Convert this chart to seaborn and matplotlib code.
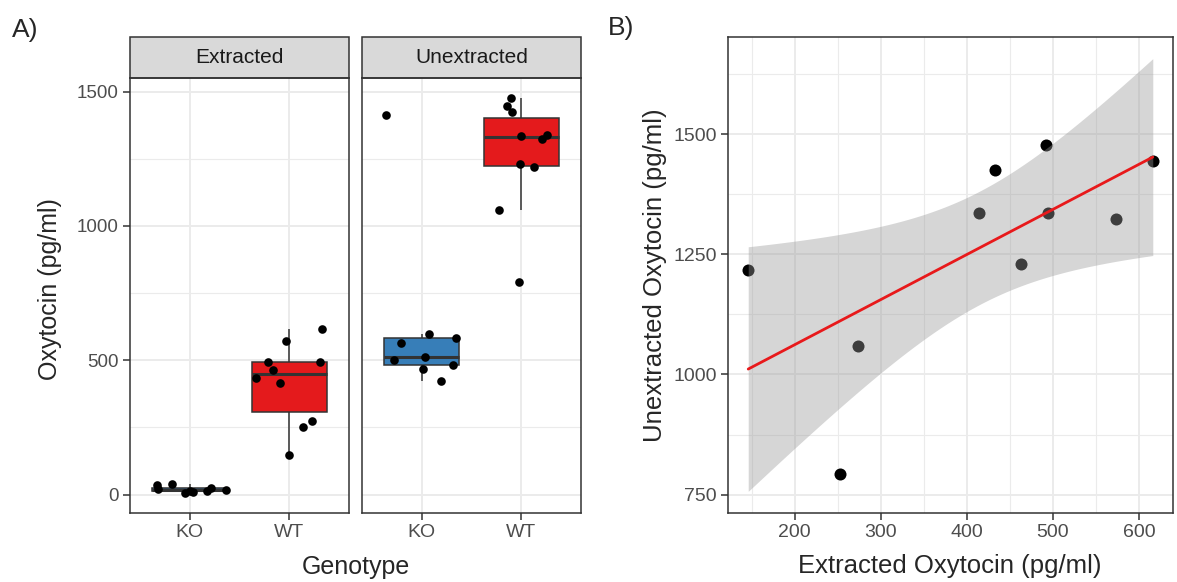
import matplotlib
matplotlib.use("Agg")
import matplotlib.pyplot as plt
import numpy as np
import pandas as pd
import seaborn as sns
from matplotlib.patches import Rectangle
from matplotlib.ticker import MultipleLocator

# Oxytocin (pg/ml)
ko_extracted = [22, 25, 5, 14, 16, 8, 12, 35, 40]
ko_unextracted = [1413, 597, 581, 566, 512, 481, 501, 466, 423]
wt_extracted = [146, 253, 273, 414, 433, 463, 492, 494, 573, 616]
wt_unextracted = [1218, 793, 1060, 1336, 1425, 1231, 1477, 1337, 1323, 1445]

genotypes = ["KO", "WT"]
conditions = ["Extracted", "Unextracted"]
box_colors = {"KO": "#377EB8", "WT": "#E41A1C"}

# long table for the faceted boxplots
rows = []
for cond, ko, wt in [("Extracted", ko_extracted, wt_extracted),
                     ("Unextracted", ko_unextracted, wt_unextracted)]:
    rows += [(cond, "KO", v) for v in ko]
    rows += [(cond, "WT", v) for v in wt]
df = pd.DataFrame(rows, columns=["Condition", "Genotype", "Oxytocin"])

sns.set_theme(style="white")
plt.rcParams["font.family"] = ["Liberation Sans", "DejaVu Sans"]

W, H = 1177, 582
fig = plt.figure(figsize=(W / 100, H / 100), dpi=100)


def px_axes(x0, y0, x1, y1):
    return fig.add_axes([x0 / W, 1 - y1 / H, (x1 - x0) / W, (y1 - y0) / H])


ax1 = px_axes(130, 78, 349, 513)
ax2 = px_axes(362, 78, 581, 513)
ax3 = px_axes(728, 37, 1173, 513)

dark = "#333333"
grid_col = "#EBEBEB"


def style_panel(ax, xsize, ysize):
    ax.set_facecolor("white")
    for s in ax.spines.values():
        s.set_visible(True)
        s.set_color(dark)
        s.set_linewidth(1.1)
    ax.tick_params(axis="both", which="major", direction="out", length=5, width=1.1,
                   color=dark, labelcolor="#4D4D4D", pad=3, left=True, bottom=True)
    ax.tick_params(axis="x", labelsize=xsize)
    ax.tick_params(axis="y", labelsize=ysize)
    ax.tick_params(which="minor", length=0)
    ax.grid(which="major", color=grid_col, lw=1.4)
    ax.grid(which="minor", color=grid_col, lw=0.8)
    ax.set_axisbelow(True)
    ax.set_xlabel("")
    ax.set_ylabel("")


# A) boxplots faceted by condition
y_lo, y_hi = df["Oxytocin"].min(), df["Oxytocin"].max()
y_pad = 0.05 * (y_hi - y_lo)
np.random.seed(7)
for ax, cond in zip([ax1, ax2], conditions):
    sub = df[df["Condition"] == cond]
    sns.boxplot(data=sub, x="Genotype", y="Oxytocin", hue="Genotype", order=genotypes,
                hue_order=genotypes, palette=box_colors, width=0.75, showcaps=False,
                showfliers=False, linecolor=dark, linewidth=1.1, saturation=1,
                medianprops=dict(lw=2.2), legend=False, ax=ax)
    sns.stripplot(data=sub, x="Genotype", y="Oxytocin", order=genotypes, color="black",
                  jitter=0.38, size=6.2, ax=ax, zorder=3)
    ax.set_xlim(-0.6, 1.6)
    ax.set_ylim(y_lo - y_pad, y_hi + y_pad)
    ax.yaxis.set_major_locator(MultipleLocator(500))
    ax.yaxis.set_minor_locator(MultipleLocator(250))
    style_panel(ax, 14, 13.5)
    # facet strip
    ax.add_patch(Rectangle((0, 1), 1, 41 / 435, transform=ax.transAxes, clip_on=False,
                           facecolor="#D9D9D9", edgecolor=dark, lw=1.1))
    ax.text(0.5, 1 + 20.5 / 435, cond, transform=ax.transAxes, ha="center", va="center",
            fontsize=15, color="#1A1A1A")
ax2.tick_params(labelleft=False, left=False)

# B) extracted vs unextracted (WT) with linear fit and 95% CI
sns.regplot(x=wt_extracted, y=wt_unextracted, ci=None, ax=ax3,
            scatter_kws=dict(color="black", s=75, linewidths=0, alpha=1, zorder=2),
            line_kws=dict(color="#E8191B", lw=2, zorder=4))

x = np.asarray(wt_extracted, float)
y = np.asarray(wt_unextracted, float)
n = len(x)
b1, b0 = np.polyfit(x, y, 1)
resid = y - (b0 + b1 * x)
s = np.sqrt(resid @ resid / (n - 2))
xs = np.linspace(x.min(), x.max(), 100)
se = s * np.sqrt(1 / n + (xs - x.mean()) ** 2 / ((x - x.mean()) ** 2).sum())
t975 = 2.306  # t quantile, df = 8
fit = b0 + b1 * xs
lower, upper = fit - t975 * se, fit + t975 * se
ax3.fill_between(xs, lower, upper, color="#999999", alpha=0.4, lw=0, zorder=3)

x_pad = 0.05 * (x.max() - x.min())
ax3.set_xlim(x.min() - x_pad, x.max() + x_pad)
lo, hi = min(lower.min(), y.min()), max(upper.max(), y.max())
ax3.set_ylim(lo - 0.05 * (hi - lo), hi + 0.05 * (hi - lo))
ax3.xaxis.set_major_locator(MultipleLocator(100))
ax3.xaxis.set_minor_locator(MultipleLocator(50))
ax3.yaxis.set_major_locator(MultipleLocator(250))
ax3.yaxis.set_minor_locator(MultipleLocator(125))
style_panel(ax3, 14, 14)

# titles and panel tags
fig.text(355.5 / W, 1 - 567 / H, "Genotype", ha="center", va="center", fontsize=18)
fig.text(950 / W, 1 - 566 / H, "Extracted Oxytocin (pg/ml)", ha="center", va="center",
         fontsize=18.5)
fig.text(50 / W, 1 - 289 / H, "Oxytocin (pg/ml)", rotation=90, ha="center", va="center",
         fontsize=18)
fig.text(655 / W, 1 - 275 / H, "Unextracted Oxytocin (pg/ml)", rotation=90, ha="center",
         va="center", fontsize=18.5)
fig.text(12 / W, 1 - 30 / H, "A)", ha="left", va="center", fontsize=19)
fig.text(608 / W, 1 - 28 / H, "B)", ha="left", va="center", fontsize=19)

fig.savefig("out.png", dpi=100)
